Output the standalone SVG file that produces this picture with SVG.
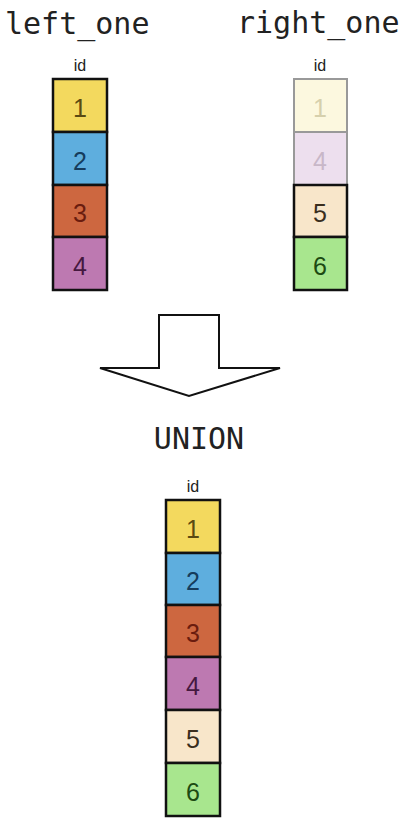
<svg xmlns="http://www.w3.org/2000/svg" width="412" height="830" viewBox="0 0 412 830">
<style>
.title{font-family:"DejaVu Sans Mono",monospace;font-size:30px;fill:#222}
.hdr{font-family:"Liberation Sans",Arial,sans-serif;font-size:16px;fill:#222;text-anchor:middle}
.num{font-family:"Liberation Sans",Arial,sans-serif;font-size:25px;text-anchor:middle}
.cell{stroke:#111;stroke-width:2.5}
.faded{stroke:#999;stroke-width:2}
.c1{fill:#f3d95e}.t1{fill:#5a4a12}
.c2{fill:#5eaede}.t2{fill:#153c5c}
.c3{fill:#cd6740}.t3{fill:#6a1c0e}
.c4{fill:#bd79b1}.t4{fill:#45183f}
.c5{fill:#f8e6ca}.t5{fill:#3a2e1e}
.c6{fill:#a8e68e}.t6{fill:#1c4a12}
.f1{fill:#fcf8df}.ft1{fill:#d6d0ac}
.f4{fill:#eddfee}.ft4{fill:#c8b7c8}
</style>
<rect width="412" height="830" fill="#fff"/>
<text class="title" x="5" y="34">left_one</text>
<text class="title" x="237" y="33">right_one</text>
<g id="left_one">
<text class="hdr" x="80" y="71">id</text>
<rect class="cell c1" x="53" y="79" width="54" height="53"/><text class="num t1" x="80" y="117">1</text>
<rect class="cell c2" x="53" y="132" width="54" height="53"/><text class="num t2" x="80" y="170">2</text>
<rect class="cell c3" x="53" y="185" width="54" height="52"/><text class="num t3" x="80" y="222">3</text>
<rect class="cell c4" x="53" y="237" width="54" height="53"/><text class="num t4" x="80" y="275">4</text>
</g>
<g id="right_one">
<text class="hdr" x="320" y="71">id</text>
<rect class="faded f1" x="294" y="79" width="53" height="53"/><text class="num ft1" x="320" y="117">1</text>
<rect class="faded f4" x="294" y="132" width="53" height="53"/><text class="num ft4" x="320" y="170">4</text>
<rect class="cell c5" x="294" y="185" width="53" height="52"/><text class="num t5" x="320" y="222">5</text>
<rect class="cell c6" x="294" y="237" width="53" height="53"/><text class="num t6" x="320" y="275">6</text>
</g>
<g id="connectors">
<path id="union_arrow" d="M159,315 H219 V368 H280 L189,396 L100,368 H159 Z" fill="#fff" stroke="#111" stroke-width="2" stroke-linejoin="miter"/>
</g>
<text class="title" x="199" y="449" text-anchor="middle">UNION</text>
<g id="union_result">
<text class="hdr" x="193" y="492">id</text>
<rect class="cell c1" x="166" y="500" width="54" height="53"/><text class="num t1" x="193" y="538">1</text>
<rect class="cell c2" x="166" y="553" width="54" height="52"/><text class="num t2" x="193" y="590">2</text>
<rect class="cell c3" x="166" y="605" width="54" height="52"/><text class="num t3" x="193" y="642">3</text>
<rect class="cell c4" x="166" y="657" width="54" height="53"/><text class="num t4" x="193" y="695">4</text>
<rect class="cell c5" x="166" y="710" width="54" height="53"/><text class="num t5" x="193" y="748">5</text>
<rect class="cell c6" x="166" y="763" width="54" height="53"/><text class="num t6" x="193" y="801">6</text>
</g>
</svg>
